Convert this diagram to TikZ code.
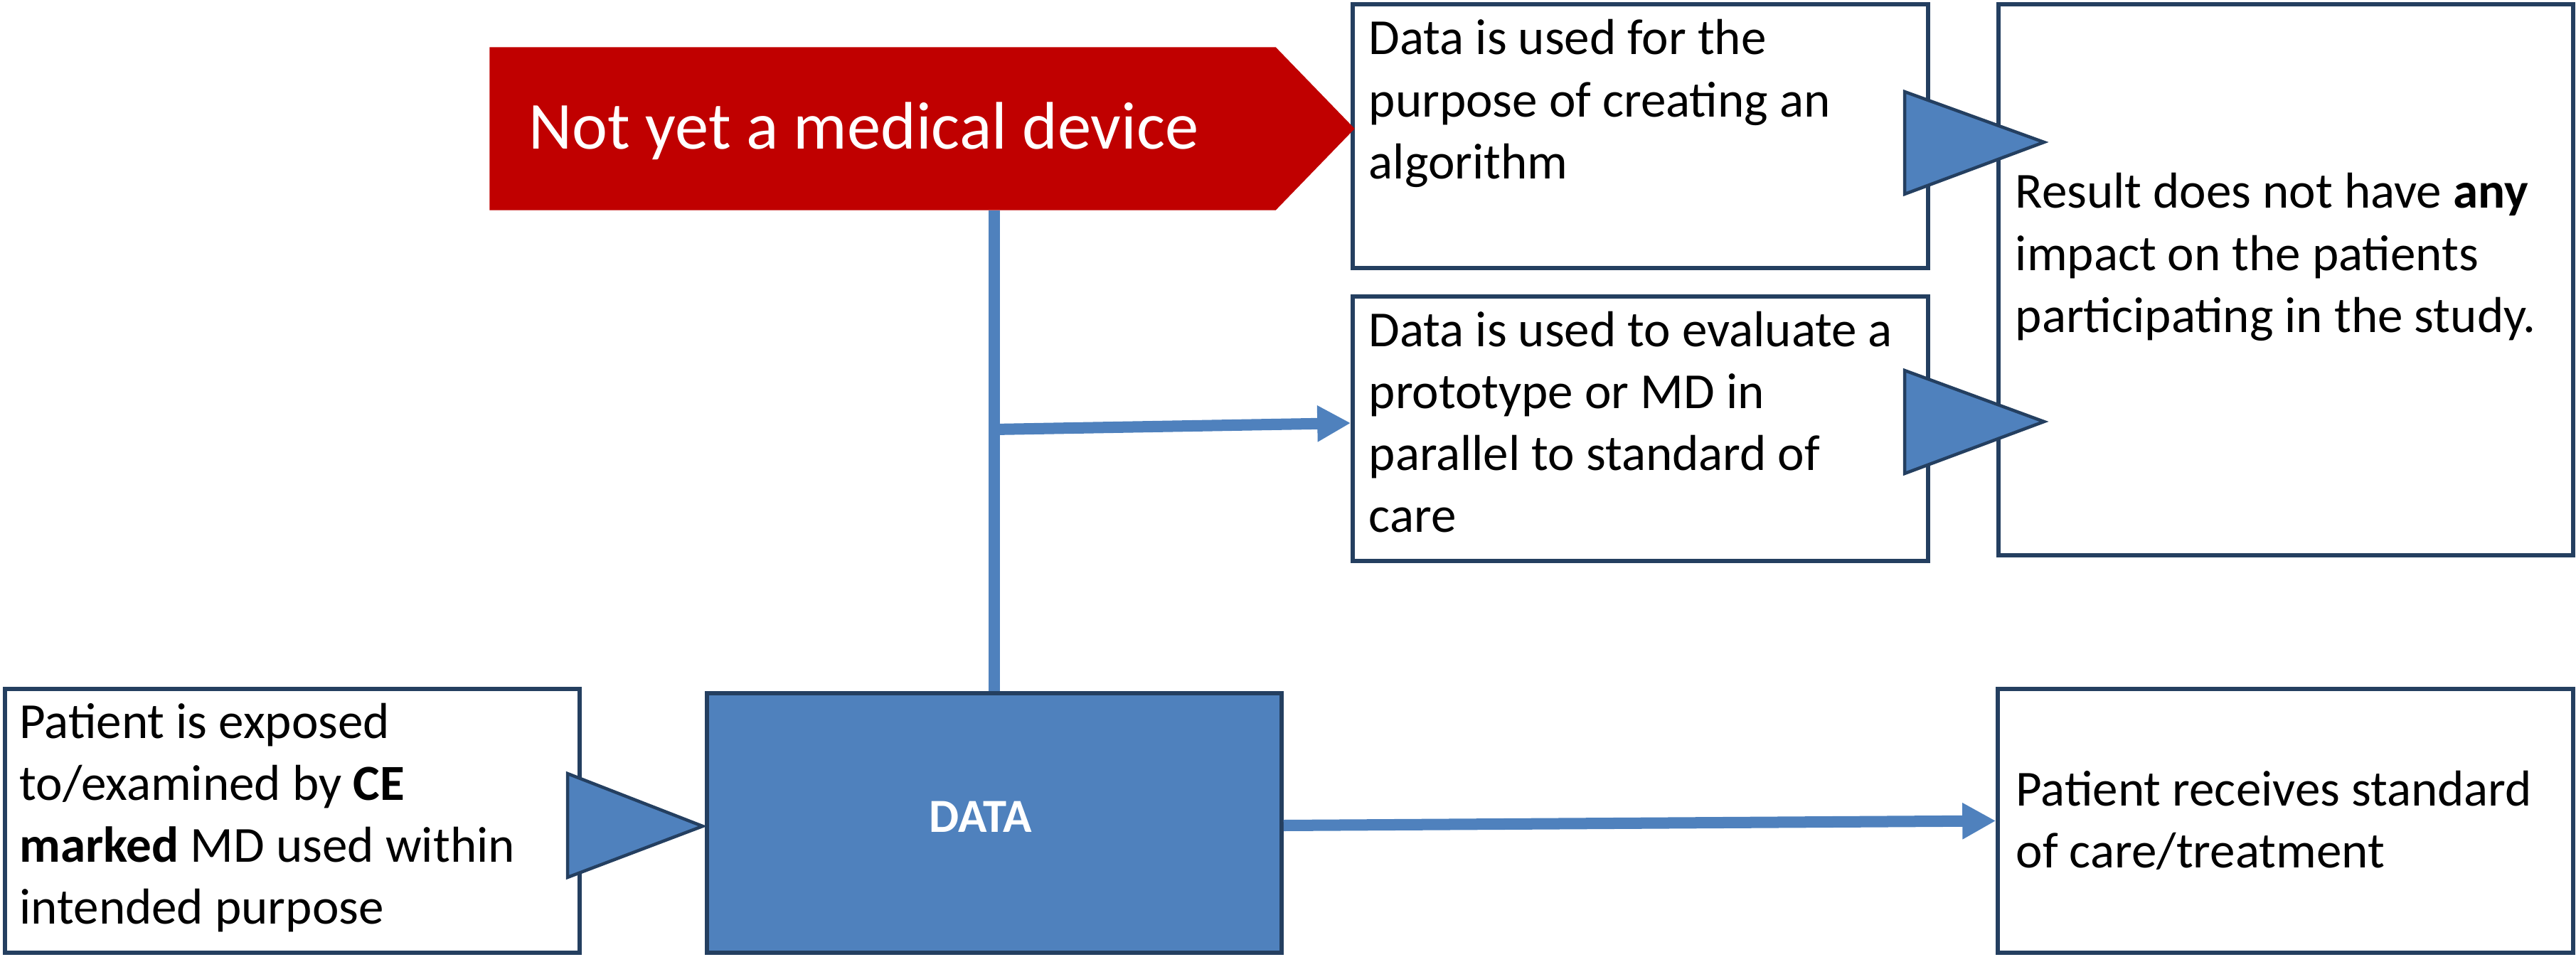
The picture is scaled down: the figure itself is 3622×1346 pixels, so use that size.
\documentclass[tikz,border=0pt]{standalone}
\usepackage{fontspec}
\setmainfont{Carlito}
\usetikzlibrary{arrows.meta,fit,calc}
\definecolor{accblue}{HTML}{4F81BD}
\definecolor{navy}{HTML}{243F60}
\definecolor{darkred}{HTML}{C00000}
\tikzset{
  box/.style={draw=navy, line width=0.055cm, fill=white, inner sep=0pt},
  databox/.style={box, fill=accblue},
  txt/.style={anchor=base west, inner sep=0pt, font=\fontsize{20.2}{24.75}\selectfont},
  tri/.style={fill=accblue, draw=navy, line width=0.045cm, line join=miter},
  conn/.style={draw=accblue, line width=0.16cm},
  connarrow/.style={conn, -{Triangle[length=0.47cm,width=0.48cm]}},
}
\begin{document}
\begin{tikzpicture}[x=0.01cm, y=-0.01cm]
\useasboundingbox (0,0) rectangle (3622,1346);

% boxes
\node[box, fit={(1902,6) (2711,377)}] (b1) {};
\node[box, fit={(1902,417) (2711,789)}] (b2) {};
\node[box, fit={(2810,6) (3618,781)}] (b3) {};
\node[box, fit={(7,969) (815,1340)}] (b4) {};
\node[box, fit={(2809,969) (3618,1340)}] (b5) {};
\node[databox, fit={(994,975) (1802,1340)}] (data) {};

% red "not yet a medical device" shape
\node[inner sep=0pt, fit={(689,67) (1904,295)}] (nyd) {};
\fill[darkred] (nyd.north west) -- ([xshift=-1.11cm]nyd.north east) -- (nyd.east)
  -- ([xshift=-1.11cm]nyd.south east) -- (nyd.south west) -- cycle;

% connectors
\draw[conn] (data.north) -- (data.north |- nyd.south);
\coordinate (j) at (1398,604);
\draw[connarrow] (j) -- ([yshift=0.08cm]b2.west);
\draw[connarrow] ([yshift=-0.035cm]data.east) -- (b5.west);

% triangles
\draw[tri] (2678,129) -- (2874,200) -- (2678,273) -- cycle;
\draw[tri] (2678,521) -- (2874,593) -- (2678,666) -- cycle;
\draw[tri] (798,1088) -- (988,1162) -- (798,1234) -- cycle;

% texts
\node[anchor=base west, inner sep=0pt, text=white, font=\fontsize{26.9}{32}\selectfont] (tnyd) at (743,210) {Not yet a medical device};
\node[anchor=base, inner sep=0pt, text=white, font=\fontsize{19}{23}\selectfont\bfseries] (tdata) at (1379,1170) {DATA};

\node[txt] (t1) at (1924,77) {\parbox[t]{8cm}{Data is used for the\\purpose of creating an\\algorithm}};
\node[txt] (t2) at (1924,487) {\parbox[t]{8cm}{Data is used to evaluate a\\prototype or MD in\\parallel to standard of\\care}};
\node[txt] (t3) at (2833,293) {\parbox[t]{8cm}{Result does not have \textbf{any}\\impact on the patients\\participating in the study.}};
\node[txt] (t4) at (27,1038) {\parbox[t]{8cm}{Patient is exposed\\to/examined by \textbf{CE}\\\textbf{marked} MD used within\\intended purpose}};
\node[txt] (t5) at (2834,1133) {\parbox[t]{8cm}{Patient receives standard\\of care/treatment}};
\end{tikzpicture}
\end{document}
